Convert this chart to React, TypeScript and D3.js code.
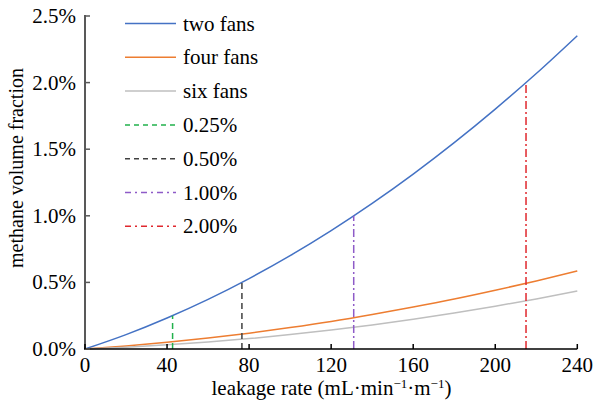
import React from "react";
import * as d3 from "d3";

const leakage = [0, 20, 40, 60, 80, 100, 120, 140, 160, 180, 200, 220, 240];
const twoFans = [0, 0.108, 0.233, 0.373, 0.529, 0.701, 0.889, 1.093, 1.313, 1.549, 1.801, 2.068, 2.352];
const fourFans = [0, 0.023, 0.05, 0.082, 0.119, 0.161, 0.207, 0.259, 0.315, 0.375, 0.441, 0.511, 0.586];
const sixFans = [0, 0.013, 0.031, 0.052, 0.078, 0.108, 0.142, 0.181, 0.223, 0.27, 0.321, 0.376, 0.435];
const seriesNames = ["two fans", "four fans", "six fans"];
const thresholds = [0.25, 0.5, 1.0, 2.0];
const thresholdX = [42.7, 76.5, 131, 215];
const thresholdNames = ["0.25%", "0.50%", "1.00%", "2.00%"];
const xTicks = [0, 40, 80, 120, 160, 200, 240];
const yTicks = [0, 0.5, 1.0, 1.5, 2.0, 2.5];

const seriesColors = ["#4472C4", "#ED7D31", "#BFBFBF"];
const threshColors = ["#22B14C", "#404040", "#8E5BC8", "#E0282E"];
const threshDash = ["6,4", "6,4", "8,3,2,3", "8,3,2,3"];
const legendDash = ["5,4", "5,4", "6,4,2,4", "6,4,2,4"];

export default function App() {
  const W = 595, H = 404;
  const x = d3.scaleLinear().domain([0, 240]).range([85, 577.3]);
  const y = d3.scaleLinear().domain([0, 2.5]).range([349, 16]);
  const fs = 21;
  const ff = "'Liberation Serif', Tinos, 'Times New Roman', serif";
  const line = d3.line<[number, number]>().x(d => x(d[0])).y(d => y(d[1])).curve(d3.curveMonotoneX);
  const series = [twoFans, fourFans, sixFans];
  const legendY0 = 23.5, legendStep = 33.8;
  return (
    <div style={{ position: "absolute", left: 0, top: 0, fontFamily: ff }}>
      <svg width={W} height={H} fontFamily={ff}>
        <style>{`text, tspan { font-family: "Liberation Serif", Tinos, "Times New Roman", serif; }`}</style>
        <rect width={W} height={H} fill="#fff" />
        {series.map((s, i) => (
          <path key={i} d={line(leakage.map((v, j) => [v, s[j]] as [number, number])) || ""} fill="none" stroke={seriesColors[i]} strokeWidth={1.5} />
        ))}
        {thresholds.map((t, i) => (
          <line key={i} x1={x(thresholdX[i])} x2={x(thresholdX[i])} y1={y(0)} y2={y(t)} stroke={threshColors[i]} strokeWidth={1.5} strokeDasharray={threshDash[i]} />
        ))}
        <line x1={85} x2={85} y1={y(2.5) - 1} y2={y(0)} stroke="#595959" strokeWidth={2} />
        <line x1={84} x2={x(240)} y1={y(0)} y2={y(0)} stroke="#000" strokeWidth={1.5} />
        {yTicks.map(t => (
          <g key={t}>
            <line x1={85} x2={90} y1={y(t)} y2={y(t)} stroke="#595959" strokeWidth={1.5} />
            <text x={76} y={y(t) + 7} textAnchor="end" fontSize={fs}>{t.toFixed(1) + "%"}</text>
          </g>
        ))}
        {xTicks.map(t => (
          <g key={t}>
            <line x1={x(t)} x2={x(t)} y1={y(0)} y2={y(0) - 5} stroke="#000" strokeWidth={1.5} />
            <text x={x(t)} y={372} textAnchor="middle" fontSize={fs}>{t}</text>
          </g>
        ))}
        <text x={331.5} y={395} textAnchor="middle" fontSize={21}>
          leakage rate (mL·min<tspan dy={-7} fontSize={13}>−1</tspan><tspan dy={7}>·m</tspan><tspan dy={-7} fontSize={13}>−1</tspan><tspan dy={7}>)</tspan>
        </text>
        <text transform={`translate(23,168) rotate(-90)`} textAnchor="middle" fontSize={20}>methane volume fraction</text>
        {seriesNames.map((n, i) => (
          <g key={n}>
            <line x1={125} x2={176} y1={legendY0 + i * legendStep} y2={legendY0 + i * legendStep} stroke={seriesColors[i]} strokeWidth={1.5} />
            <text x={183} y={legendY0 + i * legendStep + 7} fontSize={fs}>{n}</text>
          </g>
        ))}
        {thresholdNames.map((n, i) => {
          const yy = legendY0 + (i + 3) * legendStep;
          return (
            <g key={n}>
              <line x1={125} x2={176} y1={yy} y2={yy} stroke={threshColors[i]} strokeWidth={1.5} strokeDasharray={legendDash[i]} />
              <text x={183} y={yy + 7} fontSize={fs}>{n}</text>
            </g>
          );
        })}
      </svg>
    </div>
  );
}
